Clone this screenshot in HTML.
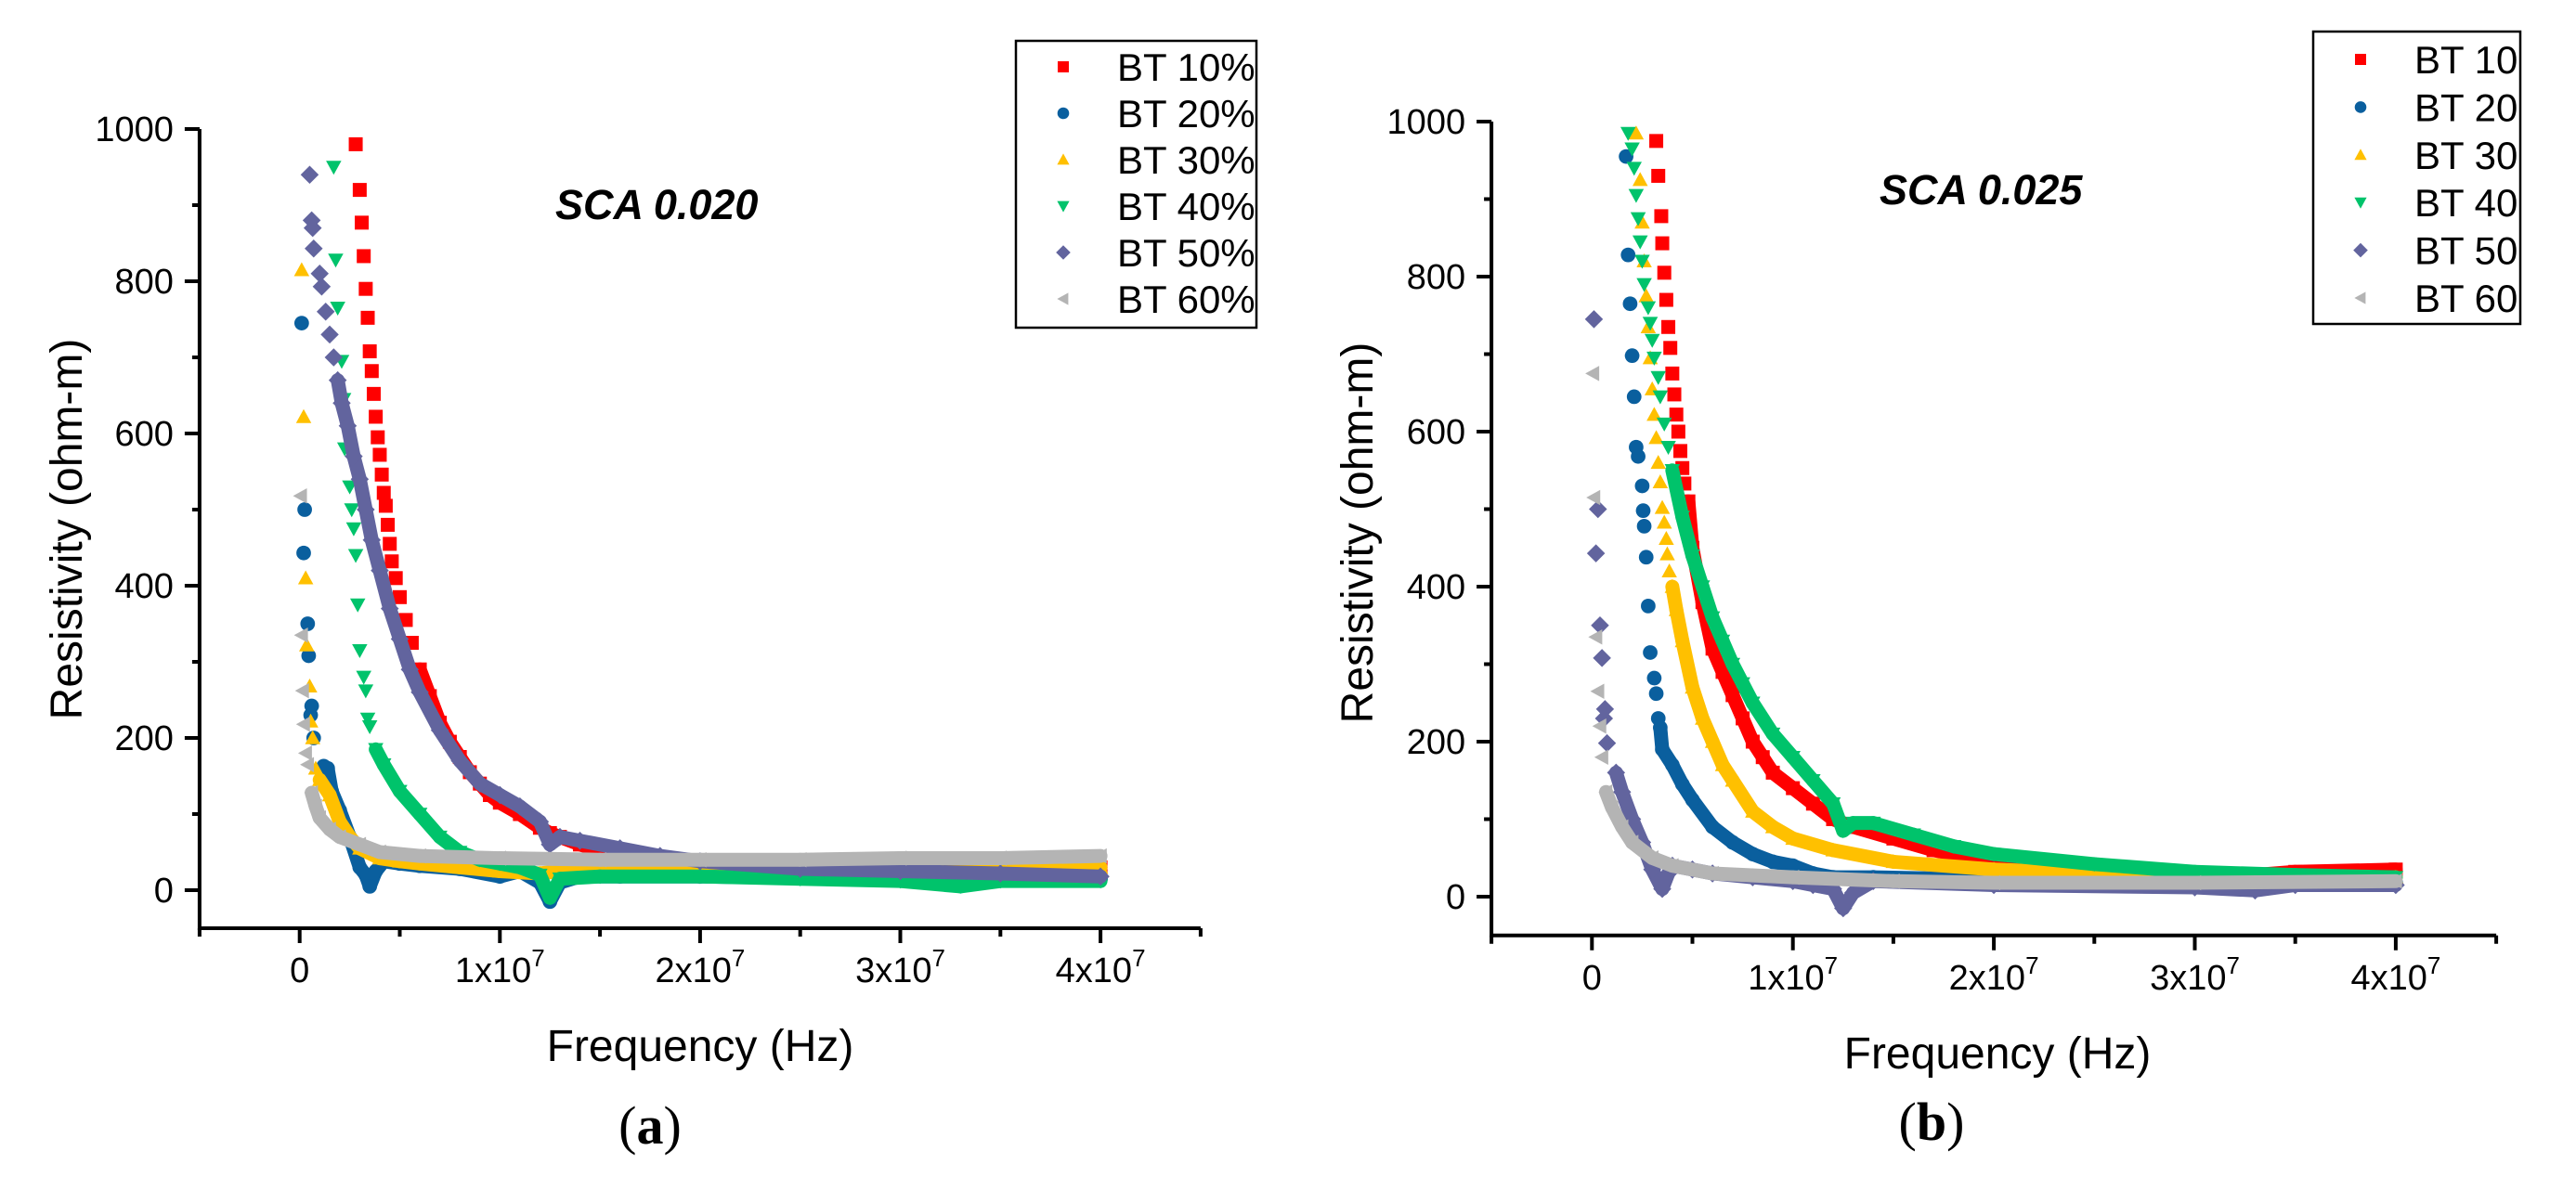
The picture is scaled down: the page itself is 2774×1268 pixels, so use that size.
<!DOCTYPE html>
<html><head><meta charset="utf-8"><style>
html,body{margin:0;padding:0;background:#fff;}
svg{display:block;font-family:"Liberation Sans",sans-serif;}
</style></head><body>
<svg id="fig" width="2774" height="1268" viewBox="0 0 2774 1268" xmlns="http://www.w3.org/2000/svg"></svg>
<script>
// ----- data (x in MHz, y in ohm-m) -----
const seriesNamesA = ["BT 10%","BT 20%","BT 30%","BT 40%","BT 50%","BT 60%"];
const seriesNamesB = ["BT 10","BT 20","BT 30","BT 40","BT 50","BT 60"];
const xTickLabels = ["0","1x10","2x10","3x10","4x10"];
const xTickValues = [0,10,20,30,40];
const yTickValues = [0,200,400,600,800,1000];

const a10x=[2.8,3.0,3.1,3.2,3.3,3.4,3.5,3.6,3.7,3.8,3.9,4.0,4.1,4.2,4.3,4.4,4.5,4.6,4.8,5.0,5.3,5.6,6,6.5,7,7.5,8,8.5,9,9.5,10,11,12,12.5,13,14,15,17,20,25,30,35,40];
const a10y=[980,920,877,833,790,752,708,682,652,622,595,572,546,522,505,480,455,432,410,385,355,325,290,255,220,195,175,155,140,125,115,100,82,75,70,60,52,45,38,32,28,28,30];
const a20x=[0.1,0.25,0.2,0.4,0.45,0.6,0.55,0.7,1.2,1.4,1.6,2,2.5,3,3.3,3.5,3.8,4.2,5,6,8,10,11,12,12.5,13,14,16,20,25,30,35,40];
const a20y=[745,500,443,350,308,242,230,200,163,160,130,105,70,30,20,5,25,38,35,32,28,18,25,10,-15,10,18,18,18,16,15,15,15];
const a30x=[0.1,0.2,0.3,0.35,0.5,0.55,0.65,0.8,1,1.5,2,2.5,3,4,5,6,8,10,12,13,15,20,25,30,35,40];
const a30y=[815,622,410,322,268,222,200,160,145,125,90,70,55,42,38,35,30,25,22,25,25,25,25,28,28,30];
const a40x=[1.7,1.8,1.9,2.1,2.2,2.25,2.5,2.6,2.7,2.8,2.9,3.0,3.2,3.3,3.4,3.5,3.8,4.2,5,6,7,8,9,10,11,12,12.5,13,15,20,25,30,33,35,40];
const a40y=[950,828,765,695,645,580,530,500,475,440,375,315,280,262,225,215,185,165,130,100,70,50,40,35,30,20,-10,15,18,18,15,12,5,12,12];
const a50x=[0.5,0.6,0.65,0.7,1,1.1,1.3,1.5,1.7,1.9,2.1,2.4,2.7,3,3.3,3.6,4,4.5,5,5.5,6,7,8,9,10,11,12,12.5,13,14,16,18,20,25,30,35,40];
const a50y=[940,880,870,843,810,793,760,730,700,670,640,610,570,540,500,460,420,370,330,290,260,210,170,140,125,110,90,60,70,65,55,45,38,28,25,22,18];
const a60x=[0.05,0.1,0.15,0.2,0.3,0.4,0.6,0.8,1,1.5,2,3,4,6,10,15,20,25,30,35,40];
const a60y=[518,335,262,218,180,165,128,110,95,80,70,60,50,45,42,40,40,40,42,42,45];

const b10x=[3.2,3.3,3.45,3.5,3.6,3.7,3.8,3.9,4.0,4.1,4.2,4.3,4.4,4.5,4.6,4.8,5,5.5,6,6.5,7,7.5,8,8.5,9,10,11,12,13,15,17,20,25,30,33,35,40];
const b10y=[975,930,878,843,805,770,735,708,675,648,622,600,575,553,533,510,450,380,320,290,260,230,200,180,160,140,120,100,90,75,60,45,35,30,28,32,35];
const b20x=[1.7,1.8,1.9,2.0,2.1,2.2,2.3,2.5,2.55,2.6,2.7,2.8,2.9,3.1,3.2,3.3,3.4,3.5,4,4.5,5,6,7,8,9,10,11,12,14,20,30,40];
const b20y=[955,828,765,698,645,580,568,530,498,478,438,375,315,282,262,230,218,190,170,145,125,90,70,55,45,40,30,25,25,22,20,18];
const b30x=[2.2,2.4,2.5,2.6,2.7,2.8,2.9,3,3.1,3.2,3.3,3.4,3.5,3.6,3.7,3.75,3.85,4,4.2,4.5,5,5.5,6,6.5,7,8,9,10,12,15,20,25,30,40];
const b30y=[985,925,870,820,775,735,695,655,622,592,560,535,502,483,462,442,420,400,370,330,270,230,200,170,150,110,90,75,60,45,35,30,25,25];
const b40x=[1.8,2,2.1,2.2,2.3,2.4,2.5,2.6,2.8,2.9,3,3.1,3.3,3.4,3.6,3.8,4,4.5,5,5.5,6,6.5,7,7.5,8,9,10,11,12,12.5,13,14,16,18,20,25,30,35,40];
const b40y=[985,965,940,905,875,845,820,790,760,740,718,695,670,645,610,580,550,490,440,400,360,330,300,275,250,210,180,150,120,85,95,95,80,65,55,42,32,28,25];
const b50x=[0.1,0.3,0.2,0.4,0.5,0.65,0.6,0.75,1.2,1.5,2,2.5,3,3.5,3.8,4,5,6,8,10,11,12,12.5,13,14,20,30,33,35,40];
const b50y=[745,500,443,350,308,242,230,198,160,135,100,70,35,10,30,40,35,30,25,20,15,10,-15,5,20,15,12,8,15,15];
const b60x=[0.05,0.1,0.2,0.3,0.4,0.5,0.7,1,1.5,2,3,4,6,10,15,20,30,40];
const b60y=[675,515,335,265,220,180,135,115,90,70,50,40,30,25,20,18,18,20];

const colors=["#ff0000","#0a5f9e","#ffc000","#00c36b","#62649e","#b4b4b4"];
const shapes=["square","circle","up","down","diamond","left"];

const NS="http://www.w3.org/2000/svg";
const svg=document.getElementById('fig');
function mk(tag,attrs,parent){const e=document.createElementNS(NS,tag);for(const k in attrs)e.setAttribute(k,attrs[k]);(parent||svg).appendChild(e);return e;}

function marker(g,shape,cx,cy,s,color){
  let e;
  const h=s/2;
  if(shape==="square") e=mk('rect',{x:cx-h,y:cy-h,width:s,height:s,fill:color},g);
  else if(shape==="circle") e=mk('circle',{cx:cx,cy:cy,r:h*1.05,fill:color},g);
  else if(shape==="up") e=mk('polygon',{points:`${cx},${cy-h*1.1} ${cx+h*1.1},${cy+h*0.9} ${cx-h*1.1},${cy+h*0.9}`,fill:color},g);
  else if(shape==="down") e=mk('polygon',{points:`${cx},${cy+h*1.1} ${cx+h*1.1},${cy-h*0.9} ${cx-h*1.1},${cy-h*0.9}`,fill:color},g);
  else if(shape==="diamond") e=mk('polygon',{points:`${cx},${cy-h*1.3} ${cx+h*1.3},${cy} ${cx},${cy+h*1.3} ${cx-h*1.3},${cy}`,fill:color},g);
  else e=mk('polygon',{points:`${cx-h*1.1},${cy} ${cx+h*0.9},${cy-h*1.1} ${cx+h*0.9},${cy+h*1.1}`,fill:color},g);
  return e;
}

function panel(cfg){
  const g=mk('g',{});
  
  
  const X=v=>cfg.x0+v*cfg.pxPerMHz;
  const Y=v=>cfg.y0-v*cfg.pxPerUnit;
  const axTop=Y(1000), axBot=Y(-50), axL=X(-5), axR=X(45);
  const sg=mk('g',{},g);
  
  
  cfg.series.forEach((s,i)=>{
    const gg=mk('g',{},sg);
    
    
    for(let k=0;k<s[0].length-1;k++){
      const x1=X(s[0][k]),y1=Y(s[1][k]),x2=X(s[0][k+1]),y2=Y(s[1][k+1]);
      if(s[0][k]>=cfg.bandStart[i]){
        const l=mk('line',{x1:x1,y1:y1,x2:x2,y2:y2,stroke:colors[i],'stroke-width':15,'stroke-linecap':'round'},gg);
        
        
      }
    }
    for(let k=0;k<s[0].length;k++){
      const m=marker(gg,shapes[i],X(s[0][k]),Y(s[1][k]),15,colors[i]);
      
      
    }
  });
  const ax=mk('path',{d:`M${axL},${axTop} L${axL},${axBot} L${axR},${axBot}`,fill:'none',stroke:'#000','stroke-width':4},g);
  
  
  mk('line',{x1:axL-14,y1:axTop,x2:axL,y2:axTop,stroke:'#000','stroke-width':4},g);
  for(let v=0;v<=1000;v+=100){
    const major=v%200===0;
    const t=mk('line',{x1:axL-(major?16:8),y1:Y(v),x2:axL,y2:Y(v),stroke:'#000','stroke-width':4},g);
    
    
  }
  yTickValues.forEach(v=>{
    const t=mk('text',{x:axL-28,y:Y(v)+13,'font-size':38,'text-anchor':'end',fill:'#000'},g);
    t.textContent=String(v);
    
    
  });
  for(let v=-5;v<=45;v+=5){
    const major=v%10===0;
    const t=mk('line',{x1:X(v),y1:axBot,x2:X(v),y2:axBot+(major?16:9),stroke:'#000','stroke-width':4},g);
    
    
  }
  xTickValues.forEach((v,i)=>{
    const t=mk('text',{x:X(v),y:axBot+58,'font-size':38,'text-anchor':'middle',fill:'#000'},g);
    
    
    if(i===0){t.textContent=xTickLabels[i];}
    else{
      t.appendChild(document.createTextNode(xTickLabels[i]));
      const sp=mk('tspan',{'font-size':26,dy:-17},t);sp.textContent='7';
    }
  });
  const yt=mk('text',{x:0,y:0,'font-size':48,'text-anchor':'middle',transform:`translate(${cfg.ytx+17},${cfg.yty}) rotate(-90)`,fill:'#000'},g);
  yt.textContent='Resistivity (ohm-m)';
  
  
  const xt=mk('text',{x:cfg.xtx,y:cfg.xty+17,'font-size':48,'text-anchor':'middle',fill:'#000'},g);
  xt.textContent='Frequency (Hz)';
  
  
  const st=mk('text',{x:cfg.stx,y:cfg.sty+16,'font-size':45,'font-weight':'bold','font-style':'italic',fill:'#000'},g);
  st.textContent=cfg.title;
  
  
  const cap=mk('text',{x:cfg.cx,y:cfg.cy+19,'font-size':58,'text-anchor':'middle','font-family':'"Liberation Serif",serif',fill:'#000'},g);
  cap.appendChild(document.createTextNode('('));
  const b=mk('tspan',{'font-weight':'bold'},cap);b.textContent=cfg.letter;
  cap.appendChild(document.createTextNode(')'));
  
  
  const lg=mk('g',{},g);
  
  
  mk('rect',{x:cfg.lx,y:cfg.ly,width:cfg.lw,height:cfg.lh,fill:'#fff',stroke:'#000','stroke-width':2.5},lg);
  cfg.names.forEach((n,i)=>{
    const ry=cfg.ly+cfg.lr0+i*cfg.lrs;
    const e=mk('g',{},lg);
    
    
    marker(e,shapes[i],cfg.lmx,ry,12,colors[i]);
    const t=mk('text',{x:cfg.ltx,y:ry+15,'font-size':42,fill:'#000'},e);
    t.textContent=n;
  });
}

panel({id:'chart-a',x0:322.7,pxPerMHz:21.56,y0:959,pxPerUnit:0.82,
  series:[[a10x,a10y],[a20x,a20y],[a30x,a30y],[a40x,a40y],[a50x,a50y],[a60x,a60y]],
  bandStart:[6,0.9,0.9,3.7,1.8,0.5],
  names:seriesNamesA,title:'SCA 0.020',letter:'a',
  ytx:71,yty:570,xtx:754,xty:1126,stx:598,sty:220,cx:700,cy:1213,
  lx:1094,ly:44,lw:259,lh:309,lr0:28,lrs:50,lmx:1145,ltx:1203});
panel({id:'chart-b',x0:1714.3,pxPerMHz:21.64,y0:966,pxPerUnit:0.835,
  series:[[b10x,b10y],[b20x,b20y],[b30x,b30y],[b40x,b40y],[b50x,b50y],[b60x,b60y]],
  bandStart:[4.8,3.4,3.9,3.9,1,0.6],
  names:seriesNamesB,title:'SCA 0.025',letter:'b',
  ytx:1461,yty:574,xtx:2151,xty:1134,stx:2024,sty:204,cx:2080,cy:1209,
  lx:2491,ly:34,lw:223,lh:315,lr0:30,lrs:51.4,lmx:2542,ltx:2600});
</script>
</body></html>
